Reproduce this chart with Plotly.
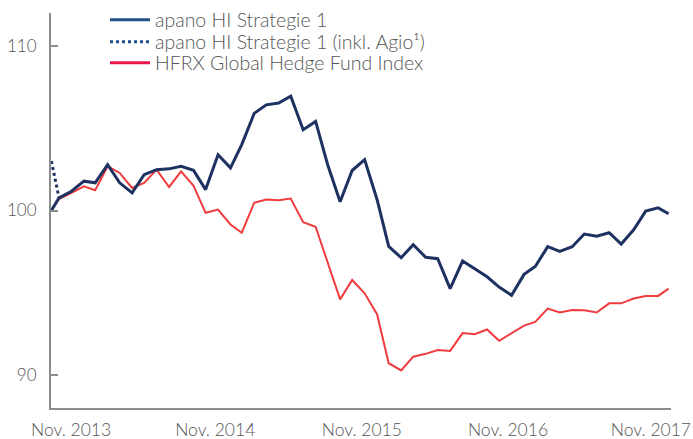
import pandas as pd
import plotly.graph_objects as go

# Dates: launch day, month-ends Nov 2013 .. Dec 2017, last valuation day
start_date = "2013-11-11"
month_ends = [d.strftime("%Y-%m-%d") for d in pd.date_range("2013-11-30", "2017-12-31", freq="ME")]
end_date = "2018-01-26"
dates = [start_date] + month_ends + [end_date]

apano = [100.0,
         100.77, 101.17, 101.78, 101.68, 102.79, 101.68, 101.07, 102.18, 102.48, 102.53,
         102.69, 102.44, 101.27, 103.39, 102.59, 104.00, 105.90, 106.42, 106.53, 106.95,
         104.91, 105.41, 102.78, 100.53, 102.43, 103.09, 100.67, 97.82, 97.13, 97.92,
         97.16, 97.07, 95.25, 96.93, 96.48, 95.97, 95.35, 94.85, 96.12, 96.60,
         97.80, 97.52, 97.80, 98.57, 98.44, 98.65, 97.96, 98.83, 99.96, 100.16,
         99.80]

hfrx = [100.0,
        100.70, 101.07, 101.47, 101.23, 102.69, 102.28, 101.37, 101.68, 102.48, 101.43,
        102.38, 101.50, 99.86, 100.06, 99.15, 98.65, 100.47, 100.67, 100.62, 100.73,
        99.29, 99.01, 96.83, 94.60, 95.78, 94.97, 93.70, 90.72, 90.28, 91.12,
        91.29, 91.52, 91.47, 92.55, 92.48, 92.77, 92.08, 92.56, 93.01, 93.23,
        94.04, 93.80, 93.96, 93.94, 93.80, 94.36, 94.36, 94.65, 94.81, 94.81,
        95.25]

agio_dates = dates[:2]
apano_agio = [103.0, 100.77]

tick_dates = ["2013-12-30", "2014-12-24", "2015-12-24", "2016-12-22", "2017-12-13"]
tick_labels = ["Nov. 2013", "Nov. 2014", "Nov. 2015", "Nov. 2016", "Nov. 2017"]
y_ticks = [90, 100, 110]

names = ["apano HI Strategie 1", "apano HI Strategie 1 (inkl. Agio\u00b9)", "HFRX Global Hedge Fund Index"]

BLUE = "#1e3262"
RED = "#f03c3e"
LEG_BLUE = "#1f4f88"
LEG_RED = "#e8194a"
GREY = "#8c8c8c"
TXT = "#555555"

W, H = 693, 439

fig = go.Figure()
fig.add_trace(go.Scatter(x=dates, y=hfrx, mode="lines", line=dict(color=RED, width=2),
                         showlegend=False))
fig.add_trace(go.Scatter(x=agio_dates, y=apano_agio, mode="lines",
                         line=dict(color=BLUE, width=3, dash="dot"), showlegend=False))
fig.add_trace(go.Scatter(x=dates, y=apano, mode="lines", line=dict(color=BLUE, width=3),
                         showlegend=False))

# legend entries (one legend per row for exact row spacing)
fig.add_trace(go.Scatter(x=[None], y=[None], mode="lines", name=names[0], legend="legend",
                         line=dict(color=LEG_BLUE, width=3)))
fig.add_trace(go.Scatter(x=[None], y=[None], mode="lines", name=names[1], legend="legend2",
                         line=dict(color=LEG_BLUE, width=3, dash="dot")))
fig.add_trace(go.Scatter(x=[None], y=[None], mode="lines", name=names[2], legend="legend3",
                         line=dict(color=LEG_RED, width=3)))

leg_font = dict(family="Lato", size=19.5, color=TXT, weight=300)
row_centers = [20, 42, 63]  # pixels from top
legends = {}
for i, key in enumerate(["legend", "legend2", "legend3"]):
    legends[key] = dict(x=105 / W, y=1 - row_centers[i] / H, xref="container", yref="container",
                        xanchor="left", yanchor="middle", bgcolor="rgba(0,0,0,0)",
                        font=leg_font, itemwidth=40)

fig.update_layout(
    width=W, height=H,
    margin=dict(l=51, r=22, t=13, b=31, autoexpand=False),
    paper_bgcolor="white", plot_bgcolor="white",
    font=dict(family="Lato", size=17, color=TXT, weight=300),
    **legends,
    xaxis=dict(type="date", range=["2013-11-10", "2018-02-01"], automargin=False,
               showline=True, linecolor=GREY, linewidth=2,
               showgrid=False, zeroline=False, ticks="",
               tickvals=tick_dates, ticktext=tick_labels, ticklabeloverflow="allow",
               tickfont=dict(size=17.5, color=TXT, weight=300), ticklabelstandoff=5),
    yaxis=dict(range=[88, 112], automargin=False, showline=True, linecolor=GREY, linewidth=2,
               showgrid=False, zeroline=False, ticks="inside", ticklen=7,
               tickwidth=2, tickcolor=GREY, tickvals=y_ticks,
               tickfont=dict(size=17, color=TXT, weight=300), ticklabelstandoff=9),
)

fig.write_html("out.html", config={"displayModeBar": False},
               post_script="document.body.style.margin='0';")
